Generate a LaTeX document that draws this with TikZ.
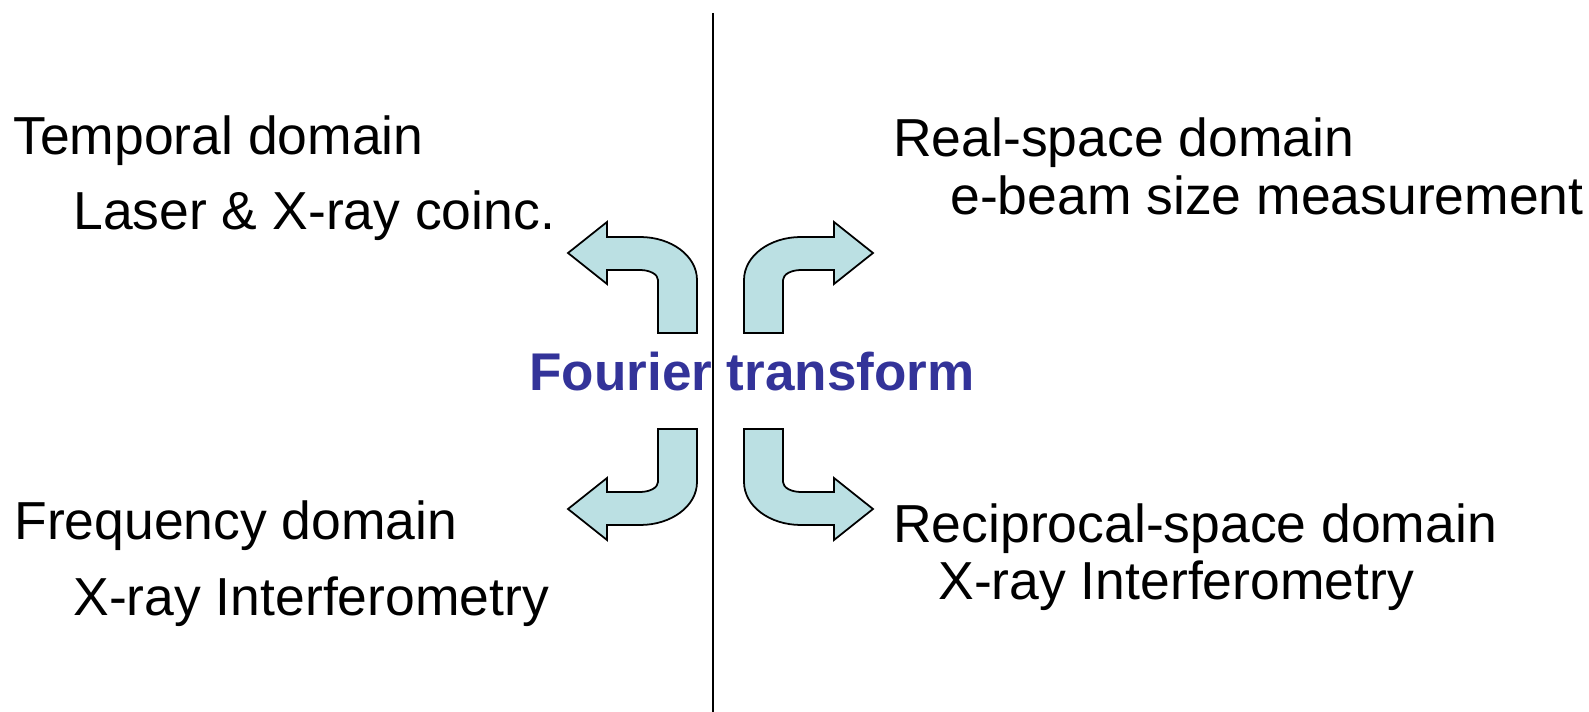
\documentclass[tikz,border=0pt]{standalone}
\usepackage{fontspec}
\setmainfont{Liberation Sans}
\definecolor{ftblue}{RGB}{51,51,153}
\definecolor{arrowfill}{RGB}{187,224,227}
\tikzset{
  domaintext/.style={anchor=base west,inner sep=0pt,font=\fontsize{30.45}{36}\selectfont},
  bentarrow/.style={draw=black,line width=1pt,fill=arrowfill,line join=miter}
}
\begin{document}
\begin{tikzpicture}[x=0.02cm,y=-0.02cm]
\useasboundingbox (0,0) rectangle (1589,712);
\coordinate (divtop) at (712.7,13); \coordinate (divbot) at (712.7,712);
\draw[line width=1.1pt] (divtop)--(divbot);
% one bent arrow, mirrored into the four quadrants
\foreach \sx/\sy in {1/1,-1/1,1/-1,-1/-1}{
\begin{scope}[shift={(720.5,381)},xscale=\sx,yscale=\sy]
\draw[bentarrow] (-152.5,-128)--(-113.5,-159)--(-113.5,-144)--(-80.5,-144)
  .. controls (-49,-144) and (-23.5,-125) .. (-23.5,-101)--(-23.5,-48)--(-62.5,-48)--(-62.5,-101)
  .. controls (-62.5,-106.5) and (-70.5,-111) .. (-80.5,-111)--(-113.5,-111)--(-113.5,-97)--cycle;
\end{scope}}
\node[domaintext] (temporal) at (13,155) {Temporal domain};
\node[domaintext] (laser) at (73,230) {Laser \& X-ray coinc.};
\node[domaintext] (realspace) at (893,157) {Real-space domain};
\node[domaintext] (ebeam) at (950,215) {e-beam size measurement};
\node[domaintext,font=\fontsize{30.2}{36}\selectfont\bfseries,text=ftblue] (fourier) at (529,391) {Fourier transform};
\node[domaintext] (frequency) at (14,540) {Frequency domain};
\node[domaintext] (xrayleft) at (73,615) {X-ray Interferometry};
\node[domaintext] (reciprocal) at (893,542) {Reciprocal-space domain};
\node[domaintext] (xrayright) at (938,600) {X-ray Interferometry};
\end{tikzpicture}
\end{document}
